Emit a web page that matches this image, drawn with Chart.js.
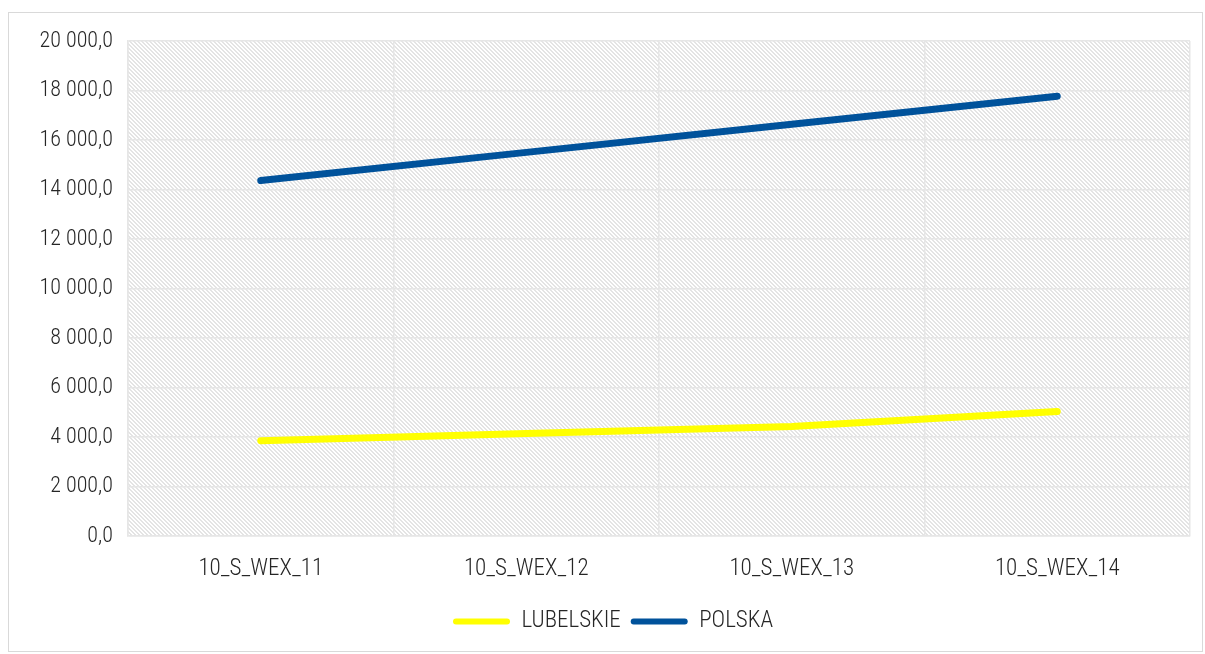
<!DOCTYPE html>
<html><head><meta charset="utf-8">
<script src="https://cdn.jsdelivr.net/npm/chart.js@4/dist/chart.umd.min.js"></script>
<style>
html,body{margin:0;padding:0;background:#fff;}
#frame{position:absolute;left:8px;top:12px;width:1195px;height:640px;border:1px solid #d9d9d9;box-sizing:border-box;}
#wrap{position:absolute;left:0;top:0;width:1205px;height:654px;}
</style></head>
<body>
<div id="frame"></div>
<div id="wrap"><canvas id="c" width="1205" height="654"></canvas></div>
<script>
const categories = ["10_S_WEX_11", "10_S_WEX_12", "10_S_WEX_13", "10_S_WEX_14"];
const lubelskie = [3850, 4140, 4420, 5030];
const polska = [14360, 15500, 16640, 17770];
const seriesNames = ["LUBELSKIE", "POLSKA"];
const yMin = 0, yMax = 20000, yStep = 2000;

const FONT = "'Liberation Sans Narrow','Roboto Condensed','DejaVu Sans Condensed',Roboto,sans-serif";

function makePattern(ctx){
  const p = document.createElement('canvas');
  p.width = 4; p.height = 4;
  const g = p.getContext('2d');
  g.fillStyle = '#ffffff'; g.fillRect(0,0,4,4);
  g.fillStyle = '#e4e4e4';
  for (let i=0;i<4;i++){ g.fillRect(i,i,1,1); g.fillRect((i+1)%4,i,1,1); }
  return ctx.createPattern(p,'repeat');
}

const hatch = {
  id:'hatch',
  beforeDraw(chart){
    const {ctx, chartArea:a} = chart;
    ctx.save();
    ctx.fillStyle = makePattern(ctx);
    ctx.fillRect(a.left, a.top, a.right-a.left, a.bottom-a.top);
    ctx.restore();
  }
};

function fmt(v){
  const s = Math.round(v).toString().replace(/\B(?=(\d{3})+(?!\d))/g,' ');
  return s + ',0';
}

new Chart(document.getElementById('c'), {
  type:'line',
  data:{
    labels: categories,
    datasets:[
      {label:seriesNames[0], data:lubelskie, borderColor:'#ffff00', backgroundColor:'#ffff00', borderWidth:7, borderCapStyle:'round', pointRadius:0, tension:0},
      {label:seriesNames[1], data:polska, borderColor:'#00529b', backgroundColor:'#00529b', borderWidth:7, borderCapStyle:'round', pointRadius:0, tension:0}
    ]
  },
  plugins:[hatch],
  options:{
    responsive:false,
    animation:false,
    layout:{padding:{left:36, right:15, top:41, bottom:11}},
    plugins:{
      tooltip:{enabled:false},
      legend:{
        position:'bottom',
        labels:{
          font:{family:FONT, size:23, weight:'300'},
          color:'#262626',
          boxWidth:57, boxHeight:6,
          useBorderRadius:true, borderRadius:3,
          padding:10,
          generateLabels(chart){
            return chart.data.datasets.map((d,i)=>({
              text:d.label, fillStyle:d.borderColor, strokeStyle:d.borderColor, lineWidth:0,
              datasetIndex:i, fontColor:'#262626', borderRadius:3
            }));
          }
        }
      }
    },
    scales:{
      x:{
        offset:true,
        grid:{offset:true, color:'#e6e6e6', lineWidth:1.5, drawTicks:false},
        border:{color:'#e6e6e6', width:1.5},
        ticks:{font:{family:FONT, size:23, weight:'300'}, color:'#262626', padding:19},
        afterFit(s){ s.height = 64; }
      },
      y:{
        min:yMin, max:yMax,
        grid:{color:'#e6e6e6', lineWidth:1.5, drawTicks:false},
        border:{color:'#e6e6e6', width:1.5},
        ticks:{stepSize:yStep, font:{family:FONT, size:22, weight:'300'}, color:'#262626', padding:15, callback:v=>fmt(v)},
        afterFit(s){ s.width = 92; }
      }
    }
  }
});
</script>
</body></html>
